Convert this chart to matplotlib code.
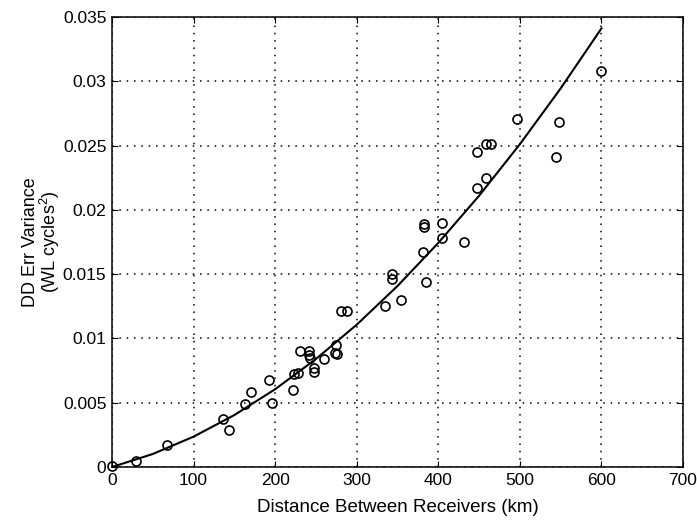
import matplotlib
matplotlib.use("Agg")
import matplotlib.pyplot as plt
import numpy as np

plt.rcParams['font.family'] = ['Liberation Sans', 'DejaVu Sans']
plt.rcParams['mathtext.fontset'] = 'custom'
plt.rcParams['mathtext.rm'] = 'Liberation Sans'
plt.rcParams['mathtext.it'] = 'Liberation Sans:italic'
plt.rcParams['mathtext.bf'] = 'Liberation Sans:bold'

# Measured double-difference error variance vs. receiver separation
distance_km = [0, 30, 68, 136, 143, 163, 170, 192, 196, 222, 223, 228,
               231, 241, 241, 243, 247, 248, 260, 275, 273, 276, 281, 288,
               335, 354, 343, 343, 385, 381, 382, 382, 404, 404, 432, 447,
               459, 447, 459, 464, 496, 548, 544, 600]
dd_var = [0.0001, 0.00045, 0.0017, 0.0037, 0.0029, 0.0049, 0.0058, 0.0068,
          0.0050, 0.0060, 0.0072, 0.0073, 0.0090, 0.0090, 0.0087, 0.0085,
          0.0077, 0.0074, 0.0084, 0.0095, 0.0089, 0.0088, 0.0121, 0.0121,
          0.0125, 0.0130, 0.0150, 0.0146, 0.0144, 0.0167, 0.0189, 0.0187,
          0.0190, 0.0178, 0.0175, 0.0217, 0.0225, 0.0245, 0.0251, 0.0251,
          0.0271, 0.0268, 0.0241, 0.0308]

# Fitted curve, every 50 km
curve_x = [0, 50, 100, 150, 200, 250, 300, 350, 400, 450, 500, 550, 600]
curve_y = [0.0, 0.00101, 0.00236, 0.00404, 0.00605, 0.0084, 0.01107,
           0.01408, 0.01743, 0.0211, 0.02511, 0.02945, 0.03412]

x_ticks = [0, 100, 200, 300, 400, 500, 600, 700]
y_ticks = [0, 0.005, 0.01, 0.015, 0.02, 0.025, 0.03, 0.035]
y_tick_labels = ["0", "0.005", "0.01", "0.015", "0.02", "0.025", "0.03", "0.035"]

fig = plt.figure(figsize=(6.97, 5.25), dpi=100)
ax = fig.add_axes([0.1607, 0.1105, 0.8193, 0.8571])

ax.plot(curve_x, curve_y, color='black', linewidth=1.5)
ax.plot(distance_km, dd_var, linestyle='none', marker='o', markersize=6.5,
        markerfacecolor='none', markeredgecolor='black', markeredgewidth=1.2,
        clip_on=False)

ax.set_xlim(0, 700)
ax.set_ylim(0, 0.035)
ax.set_xticks(x_ticks)
ax.set_yticks(y_ticks)
ax.set_yticklabels(y_tick_labels)
ax.tick_params(direction='in', length=4, labelsize=12.5, top=True, right=True, pad=4)
ax.grid(True, linestyle=(0, (1, 3.8)), color='black', linewidth=1.1)
for s in ax.spines.values():
    s.set_linewidth(1.1)

ax.set_xlabel("Distance Between Receivers (km)", fontsize=13.5, labelpad=8)
ax.set_ylabel("DD Err Variance\n(WL cycles$^{2}$)", fontsize=13, multialignment='center',
              linespacing=0.95)
ax.yaxis.set_label_coords(-0.088, 0.5)

fig.savefig("out.png", dpi=100)
